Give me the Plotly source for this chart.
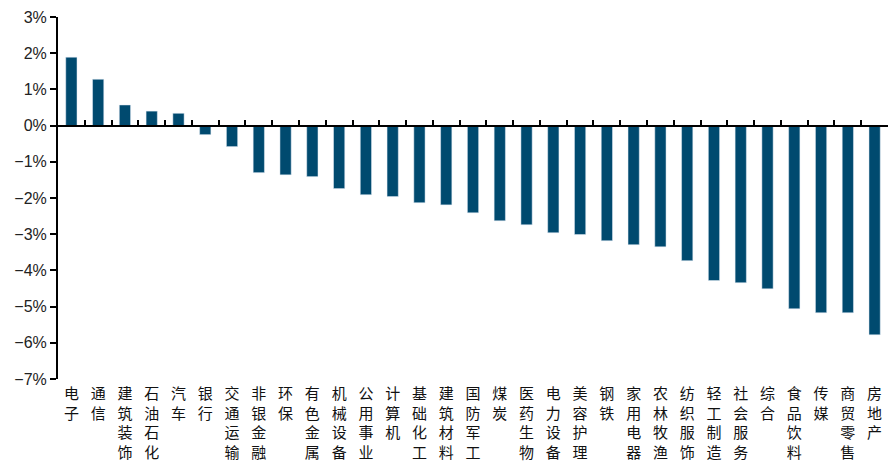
import plotly.graph_objects as go

categories = ["电子", "通信", "建筑装饰", "石油石化", "汽车", "银行", "交通运输", "非银金融", "环保",
              "有色金属", "机械设备", "公用事业", "计算机", "基础化工", "建筑材料", "国防军工", "煤炭",
              "医药生物", "电力设备", "美容护理", "钢铁", "家用电器", "农林牧渔", "纺织服饰", "轻工制造",
              "社会服务", "综合", "食品饮料", "传媒", "商贸零售", "房地产"]
values = [1.89, 1.28, 0.57, 0.40, 0.34, -0.25, -0.58, -1.30, -1.36,
          -1.41, -1.74, -1.91, -1.96, -2.13, -2.19, -2.41, -2.63,
          -2.74, -2.96, -3.01, -3.18, -3.29, -3.35, -3.73, -4.28,
          -4.34, -4.51, -5.06, -5.17, -5.17, -5.78]
y_ticks = [3, 2, 1, 0, -1, -2, -3, -4, -5, -6, -7]
y_ticktext = [("\u2212" if v < 0 else "") + f"{abs(v)}%" for v in y_ticks]

labels = ["<br>".join(list(c)) for c in categories]

fig = go.Figure()
fig.add_trace(go.Bar(x=labels, y=values, marker_color="#004a6f", width=0.42,
                     showlegend=False, hoverinfo="skip"))
fig.add_trace(go.Scatter(x=labels, y=values, xaxis="x2", mode="none",
                         showlegend=False, hoverinfo="skip"))

fig.update_layout(
    width=889, height=465,
    margin=dict(l=58, r=1, t=17, b=86),
    plot_bgcolor="white", paper_bgcolor="white",
    font=dict(family="Liberation Sans, Arial", color="#222"),
    xaxis=dict(type="category", range=[-0.5, len(categories) - 0.5],
               showline=False, ticks="", showgrid=False, zeroline=False,
               tickangle=0, ticklabelstandoff=4,
               tickfont=dict(family="Noto Sans CJK SC", size=15, color="#111")),
    xaxis2=dict(type="category", overlaying="x", matches="x", anchor="free", position=0.7,
                side="bottom", showline=True, linecolor="black", linewidth=2,
                ticks="inside", tickson="boundaries", ticklen=5, tickwidth=2, tickcolor="black",
                showticklabels=False, showgrid=False, zeroline=False),
    yaxis=dict(range=[-7, 3], tickmode="array", tickvals=y_ticks, ticktext=y_ticktext,
               showline=True, linecolor="black", linewidth=2,
               ticks="outside", ticklen=6, tickwidth=2, tickcolor="black",
               showgrid=False, zeroline=False,
               tickfont=dict(family="Liberation Sans, Arial", size=16, color="#222")),
    bargap=0.58,
)

fig.write_html("out.html")
